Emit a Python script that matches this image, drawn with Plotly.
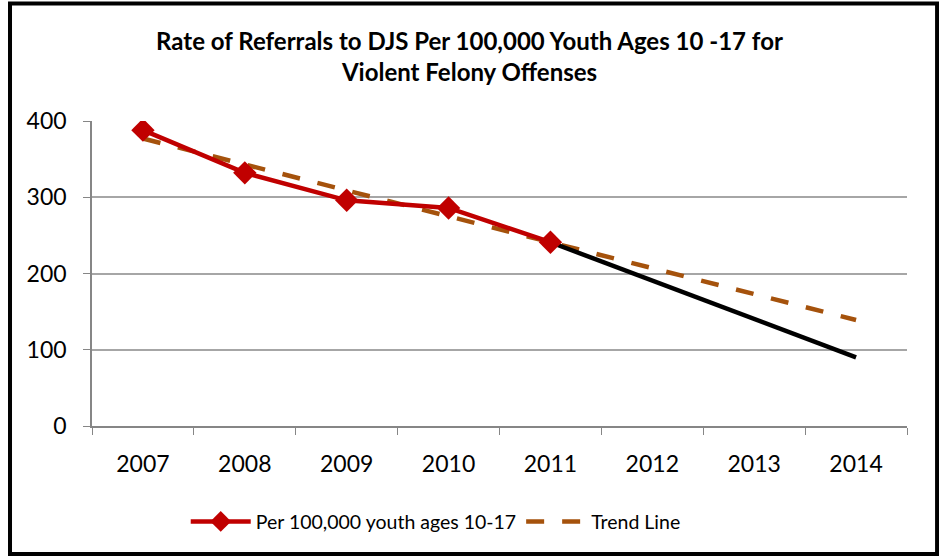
import plotly.graph_objects as go

years = ["2007", "2008", "2009", "2010", "2011", "2012", "2013", "2014"]
actual_years = ["2007", "2008", "2009", "2010", "2011"]
actual_values = [388, 332, 296, 286, 241]
trend_values = [377, 343, 309, 275, 241, 207, 173, 139]
proj_years = ["2011", "2014"]
proj_values = [241, 90]
y_ticks = [0, 100, 200, 300, 400]

FONT = "Lato"
fig = go.Figure()

fig.add_trace(go.Scatter(
    x=years, y=trend_values, mode="lines", name="Trend Line",
    line=dict(color="#A5520C", width=4.5, dash="18px,18px"),
))
fig.add_trace(go.Scatter(
    x=proj_years, y=proj_values, mode="lines", showlegend=False,
    line=dict(color="#000000", width=4.5),
))
fig.add_trace(go.Scatter(
    x=actual_years, y=actual_values, mode="lines+markers",
    name="Per 100,000 youth ages 10-17",
    line=dict(color="#C00000", width=4.5),
    marker=dict(symbol="diamond", size=18, color="#C00000"),
))

fig.update_layout(
    width=939, height=556,
    margin=dict(l=92, r=32, t=121, b=130),
    paper_bgcolor="white", plot_bgcolor="white",
    font=dict(family=FONT, size=21, color="#000000"),
    title=dict(
        text="<b>Rate of Referrals to DJS Per 100,000 Youth Ages 10 -17 for<br>Violent Felony Offenses</b>",
        x=0.5, xanchor="center", y=0.91, yanchor="top",
        font=dict(family=FONT, size=24, color="#000000"),
    ),
    showlegend=True,
    legend=dict(
        orientation="h", x=0.115, xanchor="left", y=-0.25, yanchor="top",
        font=dict(family=FONT, size=19.5), traceorder="reversed",
        itemwidth=60,
    ),
    xaxis=dict(
        type="category", categoryorder="array", categoryarray=years,
        showline=True, linecolor="#868686", linewidth=1.5,
        ticks="outside", tickson="boundaries", ticklen=7, tickcolor="#868686",
        showgrid=False, tickfont=dict(family=FONT, size=23),
        ticklabelstandoff=17,
        range=[-0.5, 7.5],
    ),
    yaxis=dict(
        range=[0, 400], tickvals=y_ticks,
        showline=True, linecolor="#868686", linewidth=1.5,
        ticks="outside", ticklen=7, tickcolor="#868686",
        showgrid=True, gridcolor="#A6A6A6", gridwidth=1.5,
        zeroline=False, tickfont=dict(family=FONT, size=23),
        ticklabelstandoff=12,
    ),
    shapes=[dict(
        type="rect", xref="paper", yref="paper",
        x0=-0.1006, x1=1.0369, y0=-0.42, y1=1.385,
        line=dict(color="#000000", width=4), fillcolor="rgba(0,0,0,0)",
    )],
)

fig.write_html(
    "out.html",
    config={"displayModeBar": False},
    post_script="document.body.style.margin='0';document.body.style.overflow='hidden';",
)
